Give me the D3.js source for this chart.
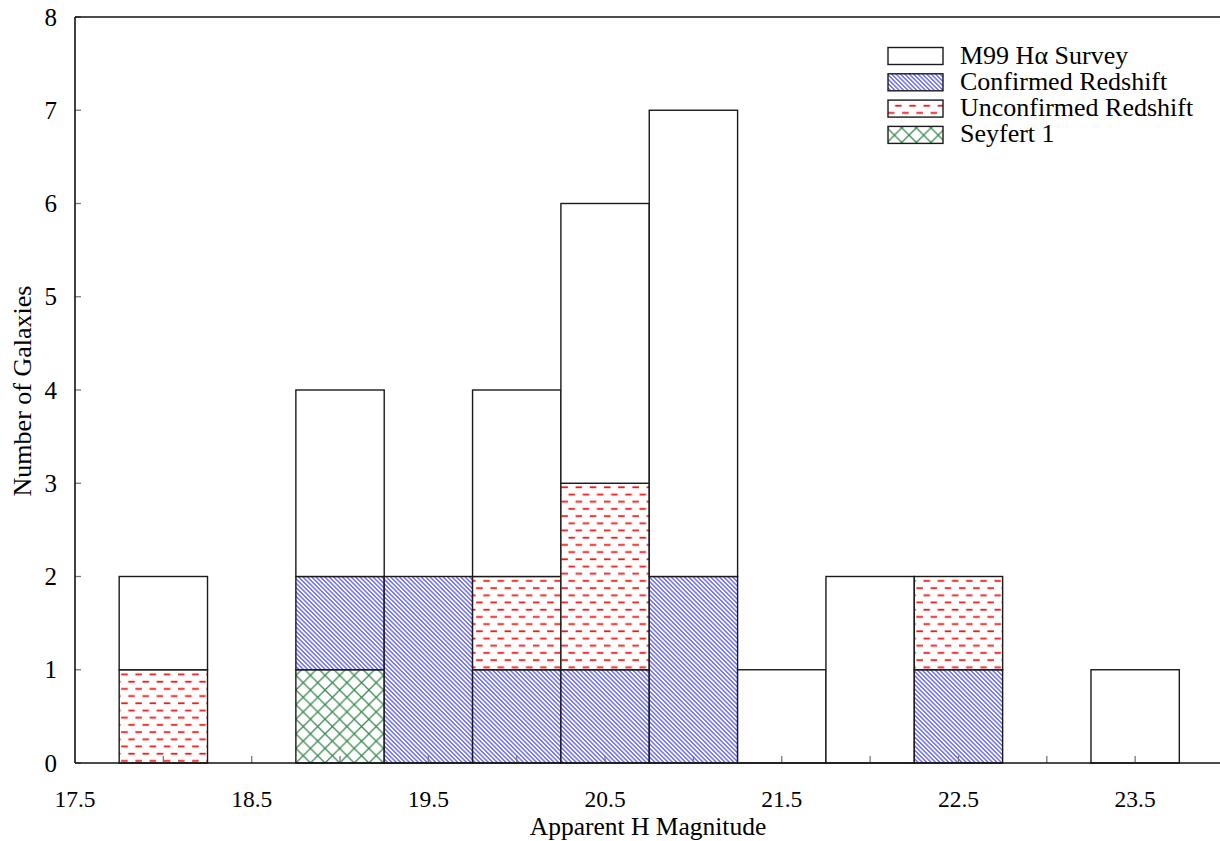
<!DOCTYPE html>
<html>
<head>
<meta charset="utf-8">
<script src="https://cdn.jsdelivr.net/npm/d3@7"></script>
<style>
  html, body { margin: 0; padding: 0; background: #fff; }
  svg { display: block; font-family: "Liberation Serif", "Times New Roman", serif; }
</style>
</head>
<body>
<svg id="chart" width="1220" height="841"></svg>
<script>
// ---- data ----
const binCenters = [18.0, 18.5, 19.0, 19.5, 20.0, 20.5, 21.0, 21.5, 22.0, 22.5, 23.0, 23.5];
const seyfert1    = [0, 0, 1, 0, 0, 0, 0, 0, 0, 0, 0, 0];
const confirmed   = [0, 0, 1, 2, 1, 1, 2, 0, 0, 1, 0, 0];
const unconfirmed = [1, 0, 0, 0, 1, 2, 0, 0, 0, 1, 0, 0];
const m99Total    = [2, 0, 4, 2, 4, 6, 7, 1, 2, 2, 0, 1];
const xTickLabels = [17.5, 18.5, 19.5, 20.5, 21.5, 22.5, 23.5];
const xMinorTicks = [18.0, 18.5, 19.0, 19.5, 20.0, 20.5, 21.0, 21.5, 22.0, 22.5, 23.0, 23.5];
const yTicks = [0, 1, 2, 3, 4, 5, 6, 7, 8];
const seriesNames = ["M99 H\u03b1 Survey", "Confirmed Redshift", "Unconfirmed Redshift", "Seyfert 1"];
const binWidth = 0.5;

(function () {
// ---- layout ----
const svg = d3.select("#chart");
const pl = 75, pr = 1223.5, pt = 17, pb = 763;
const x = d3.scaleLinear().domain([17.5, 24.0]).range([pl, pr]);
const y = d3.scaleLinear().domain([0, 8]).range([pb, pt]);

// ---- patterns ----
const defs = svg.append("defs");
const pBlue = defs.append("pattern").attr("id", "pBlue")
  .attr("patternUnits", "userSpaceOnUse").attr("width", 3.1).attr("height", 3.1)
  .attr("patternTransform", "rotate(45)");
pBlue.append("rect").attr("width", 3.1).attr("height", 3.1).attr("fill", "#fff");
pBlue.append("line").attr("x1", 0).attr("x2", 3.1).attr("y1", 1.55).attr("y2", 1.55)
  .attr("stroke", "#1c1cff").attr("stroke-width", 0.95);
const pRed = defs.append("pattern").attr("id", "pRed")
  .attr("patternUnits", "userSpaceOnUse").attr("width", 14.2).attr("height", 14.4)
  .attr("x", 0).attr("y", y(0) + 1.5);
pRed.append("rect").attr("width", 14.2).attr("height", 14.4).attr("fill", "#fff");
pRed.append("line").attr("x1", 0.5).attr("x2", 7.0).attr("y1", 3.6).attr("y2", 3.6)
  .attr("stroke", "#f01818").attr("stroke-width", 1.8);
pRed.append("line").attr("x1", 7.6).attr("x2", 14.1).attr("y1", 10.8).attr("y2", 10.8)
  .attr("stroke", "#f01818").attr("stroke-width", 1.8);
const gs = 14.6;
const pGreen = defs.append("pattern").attr("id", "pGreen")
  .attr("patternUnits", "userSpaceOnUse").attr("width", gs).attr("height", gs)
  .attr("x", x(18.75)).attr("y", y(0));
pGreen.append("rect").attr("width", gs).attr("height", gs).attr("fill", "#fff");
pGreen.append("path").attr("d", `M0,0L${gs},${gs}M${gs},0L0,${gs}`)
  .attr("stroke", "#3a8a4e").attr("stroke-width", 1.3).attr("fill", "none");

const fills = ["#ffffff", "url(#pBlue)", "url(#pRed)", "url(#pGreen)"];

// ---- stacked segments ----
const segs = [];
binCenters.forEach((c, i) => {
  let base = 0;
  const parts = [
    {k: 3, v: seyfert1[i]},
    {k: 1, v: confirmed[i]},
    {k: 2, v: unconfirmed[i]}
  ];
  parts.forEach(p => {
    if (p.v > 0) { segs.push({c, y0: base, y1: base + p.v, k: p.k}); base += p.v; }
  });
  if (m99Total[i] > base) segs.push({c, y0: base, y1: m99Total[i], k: 0});
});

svg.append("g").selectAll("rect").data(segs).join("rect")
  .attr("x", d => x(d.c - binWidth / 2))
  .attr("width", d => x(d.c + binWidth / 2) - x(d.c - binWidth / 2))
  .attr("y", d => y(d.y1))
  .attr("height", d => y(d.y0) - y(d.y1))
  .attr("fill", d => fills[d.k])
  .attr("stroke", "#1a1a1a").attr("stroke-width", 1.4);

// ---- axes ----
const axG = svg.append("g");
axG.selectAll("line.xt").data(xMinorTicks).join("line")
  .attr("x1", d => x(d)).attr("x2", d => x(d))
  .attr("y1", pb).attr("y2", pb - 7)
  .attr("stroke", "#777").attr("stroke-width", 1.3);
axG.selectAll("line.yt").data(yTicks).join("line")
  .attr("x1", pl).attr("x2", pl + 6)
  .attr("y1", d => y(d)).attr("y2", d => y(d))
  .attr("stroke", "#777").attr("stroke-width", 1.3);
axG.append("line").attr("x1", pl).attr("x2", 1220).attr("y1", pb).attr("y2", pb)
  .attr("stroke", "#111").attr("stroke-width", 1.6);
axG.append("line").attr("x1", pl).attr("x2", 1220).attr("y1", pt).attr("y2", pt)
  .attr("stroke", "#111").attr("stroke-width", 1.3);
axG.append("line").attr("x1", pl).attr("x2", pl).attr("y1", pt).attr("y2", pb)
  .attr("stroke", "#111").attr("stroke-width", 1.6);

axG.selectAll("text.xl").data(xTickLabels).join("text")
  .attr("x", d => x(d)).attr("y", 807)
  .attr("text-anchor", "middle").attr("font-size", 23.5).attr("fill", "#000")
  .text(d => d.toFixed(1));
axG.selectAll("text.yl").data(yTicks).join("text")
  .attr("x", 57).attr("y", d => y(d) + 8.5)
  .attr("text-anchor", "end").attr("font-size", 25).attr("fill", "#000")
  .text(d => d);

svg.append("text").attr("x", 648).attr("y", 835).attr("text-anchor", "middle")
  .attr("font-size", 25.5).text("Apparent H Magnitude");
svg.append("text").attr("transform", "translate(31,391) rotate(-90)").attr("text-anchor", "middle")
  .attr("font-size", 26).text("Number of Galaxies");

// ---- legend ----
const lg = svg.append("g");
seriesNames.forEach((name, i) => {
  const ty = 47.5 + i * 26.3;
  lg.append("rect").attr("x", 888).attr("y", ty).attr("width", 55).attr("height", 17)
    .attr("fill", fills[i]).attr("stroke", "#1a1a1a").attr("stroke-width", 1.4);
  lg.append("text").attr("x", 960).attr("y", ty + 16).attr("font-size", 26).text(name);
});
})();
</script>
</body>
</html>
